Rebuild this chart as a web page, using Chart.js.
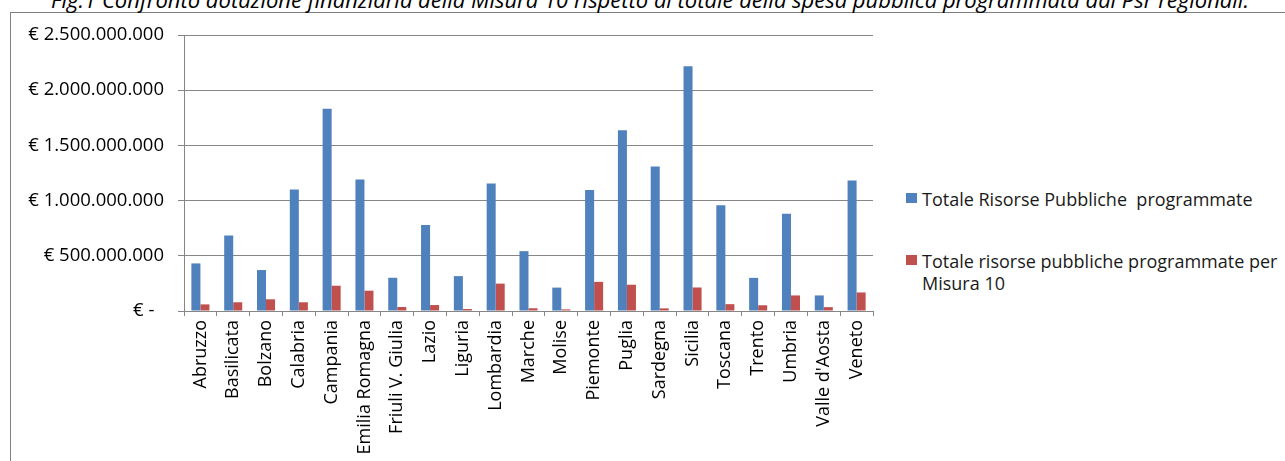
<!DOCTYPE html>
<html>
<head>
<meta charset="utf-8">
<script src="https://cdn.jsdelivr.net/npm/chart.js@4"></script>
<style>
    body { margin: 0; background: #fff; width: 1285px; height: 461px; overflow: hidden; position: relative; font-family: "Open Sans", sans-serif; }
    #frame { position: absolute; left: 10px; top: 12px; width: 1400px; height: 600px; border: 1px solid #808080; }
    #title { position: absolute; left: 0; width: 1300px; top: -12px; text-align: center; font-style: italic; font-size: 22px; line-height: 22px; color: #000; white-space: nowrap; }
    #chart { position: absolute; left: 0; top: 0; }
    #legend { position: absolute; left: 906px; top: 0; font-size: 18px; color: #1a1a1a; }
    .item { position: absolute; left: 0; white-space: pre; line-height: 22px; }
    .box { position: absolute; left: 0; width: 11px; height: 10px; }
    .txt { position: absolute; left: 16px; }
</style>
</head>
<body>
<div id="frame"></div>
<div id="title">Fig.1 Confronto dotazione finanziaria della Misura 10 rispetto al totale della spesa pubblica programmata dai Psr regionali.</div>
<canvas id="chart" width="900" height="461"></canvas>
<div id="legend"></div>
<script>
    var regioni = ['Abruzzo', 'Basilicata', 'Bolzano', 'Calabria', 'Campania', 'Emilia Romagna', 'Friuli V. Giulia',
        'Lazio', 'Liguria', 'Lombardia', 'Marche', 'Molise', 'Piemonte', 'Puglia', 'Sardegna', 'Sicilia',
        'Toscana', 'Trento', 'Umbria', "Valle d'Aosta", 'Veneto'];
    var totaleRisorse = [431e6, 684e6, 371e6, 1100e6, 1832e6, 1190e6, 301e6, 780e6, 316e6, 1156e6, 542e6,
        212e6, 1095e6, 1638e6, 1310e6, 2218e6, 959e6, 300e6, 880e6, 141e6, 1183e6];
    var risorseMisura10 = [60e6, 79e6, 106e6, 79e6, 229e6, 184e6, 36e6, 54e6, 18e6, 248e6, 25e6,
        15e6, 264e6, 238e6, 24e6, 213e6, 62e6, 52e6, 141e6, 35e6, 168e6];
    var yTicks = [0, 500e6, 1000e6, 1500e6, 2000e6, 2500e6];

    var seriesNames = ['Totale Risorse Pubbliche  programmate', 'Totale risorse pubbliche programmate per\nMisura 10'];
    var colors = ['#4F81BD', '#C0504D'];
    var gridColor = '#868686';

    function euro(v) {
        if (v === 0) return '€ -  ';
        return '€ ' + String(v).replace(/\B(?=(\d{3})+(?!\d))/g, '.');
    }

    var ctx = document.getElementById('chart').getContext('2d');
    var chart = new Chart(ctx, {
        type: 'bar',
        data: {
            labels: regioni,
            datasets: [{
                label: seriesNames[0],
                data: totaleRisorse,
                backgroundColor: colors[0],
                categoryPercentage: 0.55,
                barPercentage: 1.0
            }, {
                label: seriesNames[1],
                data: risorseMisura10,
                backgroundColor: colors[1],
                categoryPercentage: 0.55,
                barPercentage: 1.0
            }]
        },
        options: {
            responsive: false,
            animation: false,
            layout: { padding: { top: 35, right: 27, left: 0, bottom: 0 } },
            plugins: {
                legend: { display: false },
                tooltip: { enabled: false }
            },
            scales: {
                x: {
                    afterFit: function (scale) { scale.height = 150; },
                    grid: { drawOnChartArea: false, drawTicks: true, tickLength: 5, color: gridColor, offset: true },
                    border: { display: true, color: gridColor },
                    ticks: {
                        autoSkip: false, minRotation: 90, maxRotation: 90, padding: 4,
                        color: '#000', font: { family: 'Open Sans', size: 18 }
                    }
                },
                y: {
                    min: 0,
                    max: 2500e6,
                    afterFit: function (scale) { scale.width = 184; },
                    afterBuildTicks: function (scale) {
                        scale.ticks = yTicks.map(function (v) { return { value: v }; });
                    },
                    grid: { color: gridColor, tickLength: 6, drawTicks: true },
                    border: { display: true, color: gridColor },
                    ticks: {
                        padding: 14, color: '#000',
                        font: { family: 'Open Sans', size: 18.5 },
                        callback: function (v) { return euro(v); }
                    }
                }
            }
        }
    });

    // legend built from the chart datasets
    var legendTops = [188, 250];
    var leg = document.getElementById('legend');
    chart.data.datasets.forEach(function (ds, i) {
        var item = document.createElement('div');
        item.className = 'item';
        item.style.top = legendTops[i] + 'px';
        var box = document.createElement('div');
        box.className = 'box';
        box.style.background = ds.backgroundColor;
        box.style.top = '5px';
        var txt = document.createElement('div');
        txt.className = 'txt';
        txt.textContent = ds.label;
        item.appendChild(box);
        item.appendChild(txt);
        leg.appendChild(item);
    });
</script>
</body>
</html>
